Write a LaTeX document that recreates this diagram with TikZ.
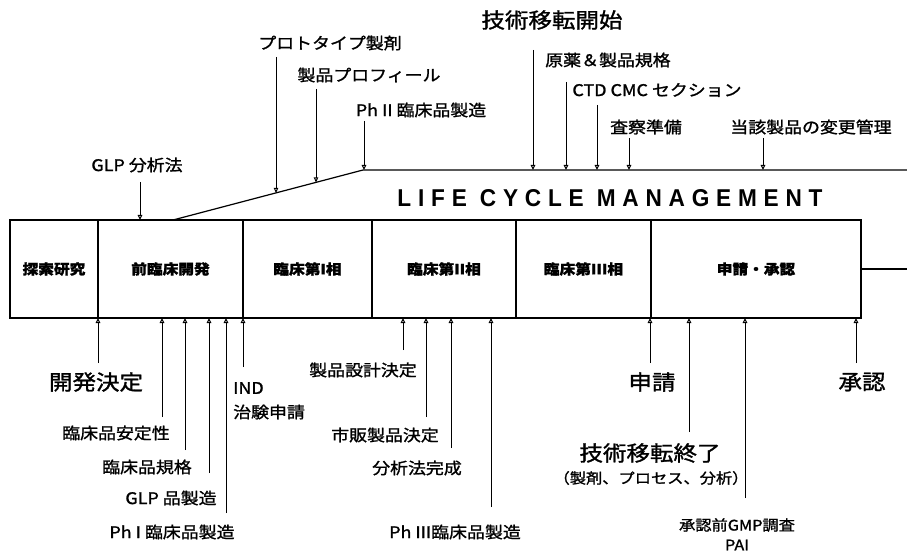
\documentclass[tikz,border=0pt]{standalone}
\usepackage{graphicx}
\usepackage{fontspec}
\setmainfont{Noto Sans CJK JP}[FakeStretch=1.12, FakeBold=1.3]
\newfontfamily\lcmfont{Liberation Sans}[LetterSpace=30]
\usetikzlibrary{arrows.meta,calc}
\tikzset{
  lbl/.style={font=\fontsize{16}{16}\selectfont, inner sep=0pt},
  biglbl/.style={font=\fontsize{21}{21}\selectfont, inner sep=0pt},
  sublbl/.style={font=\fontsize{14.5}{14.5}\selectfont, inner sep=0pt},
  phase/.style={draw, line width=1.2pt, minimum height=98pt, outer sep=0pt, inner sep=0pt,
    font=\fontsize{14}{14}\selectfont\bfseries},
  arr/.style={-{Triangle[open,length=5pt,width=4.5pt]}, line width=1pt},
  mainline/.style={line width=1.2pt}
}
\begin{document}
\begin{tikzpicture}[x=1pt,y=-1pt]
\useasboundingbox (0,0) rectangle (907,553);
% phases
\node[phase, minimum width=88pt]  (p1) at (54,269)   {探索研究};
\node[phase, minimum width=145pt] (p2) at (170.5,269) {前臨床開発};
\node[phase, minimum width=129pt] (p3) at (307.5,269) {臨床第I相};
\node[phase, minimum width=144pt] (p4) at (444,269)   {臨床第II相};
\node[phase, minimum width=135pt] (p5) at (583.5,269) {臨床第III相};
\node[phase, minimum width=210pt] (p6) at (756,269)   {申請・承認};
\coordinate (rend) at (907,269);
\draw[mainline] (p6.east) -- (rend);
% life cycle line
\coordinate (lA) at (173,220);
\coordinate (lB) at (363,170);
\coordinate (lC) at (907,170);
\draw[mainline] (lA) -- (lB) -- (lC);
\node (lcm) at (610,198) {\resizebox{425pt}{17pt}{\lcmfont\bfseries LIFE CYCLE MANAGEMENT}};
% top labels
\node[lbl] (tGLP) at (137,165) {GLP 分析法};
\node[lbl] (tProto) at (330,43) {プロトタイプ製剤};
\node[lbl] (tProf) at (369,75) {製品プロフィール};
\node[lbl] (tPh2) at (421,110) {Ph II 臨床品製造};
\node[biglbl] (tTech) at (552,20) {技術移転開始};
\node[lbl] (tSpec) at (608,60) {原薬＆製品規格};
\node[lbl] (tCTD) at (657,90) {CTD CMC セクション};
\node[lbl] (tInsp) at (646,127) {査察準備};
\node[lbl] (tChg) at (811,127) {当該製品の変更管理};
% top arrows
\coordinate (s1) at (140,182);  \coordinate (e1) at (140,220);
\coordinate (s2) at (276,57);   \coordinate (e2) at (276,192.9);
\coordinate (s3) at (316,89);   \coordinate (e3) at (316,182.4);
\coordinate (s4) at (364,121);  \coordinate (e4) at (364,170);
\coordinate (s5) at (533,50);
\coordinate (s6) at (566,82);
\coordinate (s7) at (597,105);
\coordinate (s8) at (629,138);
\coordinate (s9) at (763,138);
\draw[arr] (s1) -- (e1);
\draw[arr] (s2) -- (e2);
\draw[arr] (s3) -- (e3);
\draw[arr] (s4) -- (e4);
\foreach \s in {s5,s6,s7,s8,s9} \draw[arr] (\s) -- (\s |- lC);
% bottom labels
\node[biglbl] (bDev) at (96,382) {開発決定};
\node[lbl] (bStab) at (116,433) {臨床品安定性};
\node[lbl] (bSpec) at (147,467) {臨床品規格};
\node[lbl] (bGLP) at (171,498) {GLP 品製造};
\node[lbl] (bPh1) at (172,532) {Ph I 臨床品製造};
\node[lbl, anchor=west] (bIND) at (233,388) {IND};
\node[lbl, anchor=west] (bCTA) at (233,412) {治験申請};
\node[lbl] (bDes) at (363,370) {製品設計決定};
\node[lbl] (bMkt) at (385,435) {市販製品決定};
\node[lbl] (bAna) at (417,468) {分析法完成};
\node[lbl] (bPh3) at (455,532) {Ph III臨床品製造};
\node[biglbl] (bApp) at (652,382) {申請};
\node[biglbl] (bTTE) at (650,453) {技術移転終了};
\node[sublbl] (bTTs) at (651,478) {（製剤、プロセス、分析）};
\node[sublbl] (bPAI) at (737,525) {承認前GMP調査};
\node[sublbl] (bPAI2) at (737,545) {PAI};
\node[biglbl] (bOK) at (862,382) {承認};
% bottom arrows
\coordinate (u1) at (98,363);
\coordinate (u2) at (162,417);
\coordinate (u3) at (185,450);
\coordinate (u4) at (209,473);
\coordinate (u5) at (226,513);
\coordinate (u6) at (243,367);
\coordinate (u7) at (403,350);
\coordinate (u8) at (426,417);
\coordinate (u9) at (451,448);
\coordinate (u10) at (491,507);
\coordinate (u11) at (650,363);
\coordinate (u12) at (689,432);
\coordinate (u13) at (745,498);
\coordinate (u14) at (856,363);
\foreach \u in {u1,u2,u3,u4,u5,u6,u7,u8,u9,u10,u11,u12,u13,u14}
  \draw[arr] (\u) -- (\u |- p1.south);
\end{tikzpicture}
\end{document}
